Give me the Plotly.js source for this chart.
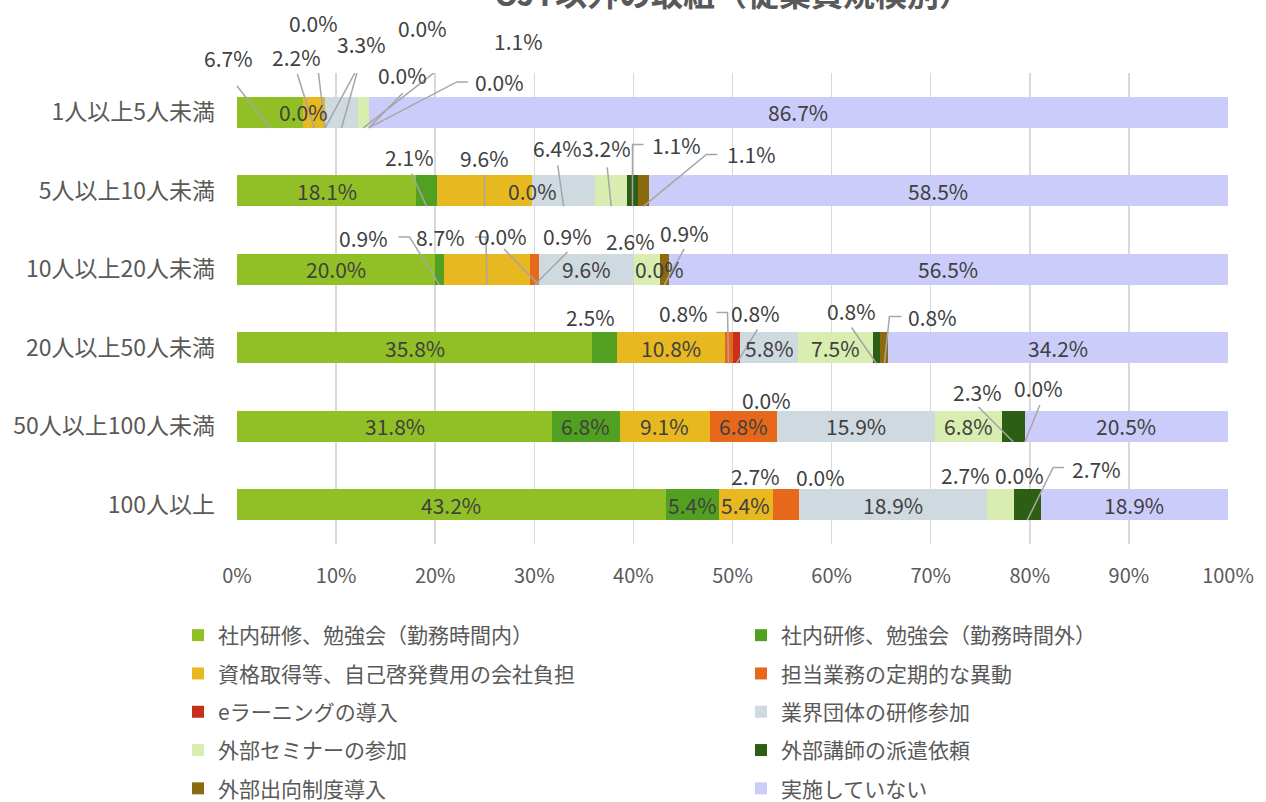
<!DOCTYPE html>
<html><head><meta charset="utf-8">
<script src="https://cdn.plot.ly/plotly-3.0.1.min.js"></script>
<style>html,body{margin:0;padding:0;background:#fff}</style>
</head><body><div id="chart" style="width:1266px;height:802px"></div>
<script>
// ---- data ----
const categories = ['1人以上5人未満','5人以上10人未満','10人以上20人未満','20人以上50人未満','50人以上100人未満','100人以上'];
const seriesNames = ['社内研修、勉強会（勤務時間内）','社内研修、勉強会（勤務時間外）','資格取得等、自己啓発費用の会社負担','担当業務の定期的な異動','eラーニングの導入','業界団体の研修参加','外部セミナーの参加','外部講師の派遣依頼','外部出向制度導入','実施していない'];
const inHouseWork   = [6.7, 18.1, 20.0, 35.8, 31.8, 43.2];
const inHouseOff    = [0.0, 2.1, 0.9, 2.5, 6.8, 5.4];
const qualification = [2.2, 9.6, 8.7, 10.8, 9.1, 5.4];
const rotation      = [0.0, 0.0, 0.9, 0.8, 6.8, 2.7];
const eLearning     = [0.0, 0.0, 0.0, 0.8, 0.0, 0.0];
const industryGroup = [3.3, 6.4, 9.6, 5.8, 15.9, 18.9];
const seminar       = [1.1, 3.2, 2.6, 7.5, 6.8, 2.7];
const lecturer      = [0.0, 1.1, 0.0, 0.8, 2.3, 2.7];
const secondment    = [0.0, 1.1, 0.9, 0.8, 0.0, 0.0];
const none          = [86.7, 58.5, 56.5, 34.2, 20.5, 18.9];
const xTickLabels = ['0%','10%','20%','30%','40%','50%','60%','70%','80%','90%','100%'];
const xTickVals = [0,10,20,30,40,50,60,70,80,90,100];

// ---- style ----
const series = [inHouseWork, inHouseOff, qualification, rotation, eLearning, industryGroup, seminar, lecturer, secondment, none];
const colors = ['#91C026','#52A022','#E7B820','#E8681B','#C8301E','#CFD9E0','#D8EDAF','#2E5E14','#8C6B0E','#CCCCFA'];
const FONT = '"Noto Sans CJK JP", "Noto Sans", sans-serif';

// label placement: 'in' = centred on segment, null = hidden,
// {t:[dx,dy]} text offset (px) from segment bottom-centre, optional l: leader polyline
const labelPlacement = [
  [{t:[-42,-70],l:[[-42,-53]]}, 'in', {t:[-18,-71],l:[[-17,-54]]}, {t:[-12,-105],l:[[-11,-89]]}, {t:[97,-100],l:[[55,-102],[65,-102]]}, {t:[20,-84],l:[[21,-75]]}, {t:[155,-87],l:[[114,-89],[124,-89]]}, {t:[34,-53],l:[[34,-35]]}, {t:[131,-46],l:[[88,-46],[99,-46]]}, 'in'],
  ['in', {t:[-17,-49],l:[[-15,-33]]}, {t:[0,-48],l:[[0,-31]]}, 'in', null, {t:[-6,-58],l:[[-6,-41]]}, {t:[-5,-58],l:[[-4,-39]]}, {t:[44,-61],l:[[0,-62],[11,-62]]}, {t:[108,-52],l:[[63,-52],[74,-52]]}, 'in'],
  ['in', {t:[-76,-47],l:[[-30,-48],[-41,-48]]}, {t:[-46,-48],l:[[-1,-48],[-12,-48]]}, {t:[33,-49],l:[[33,-33]]}, {t:[-36,-49],l:[[-35,-36]]}, 'in', {t:[-16,-44]}, 'in', {t:[20,-52],l:[[20,-36]]}, 'in'],
  ['in', {t:[-14,-46]}, 'in', {t:[-45,-50],l:[[-1,-51],[-12,-51]]}, {t:[19,-50],l:[[21,-34]]}, 'in', 'in', {t:[-25,-52],l:[[-25,-36]]}, {t:[48,-46],l:[[5,-47],[17,-47]]}, 'in'],
  ['in', 'in', 'in', 'in', {t:[-11,-42]}, 'in', 'in', {t:[-36,-50],l:[[-35,-35]]}, {t:[14,-54],l:[[15,-37]]}, 'in'],
  ['in', 'in', 'in', {t:[-31,-44]}, {t:[21,-43]}, 'in', {t:[-35,-45]}, {t:[69,-51],l:[[26,-53],[37,-53]]}, {t:[-21,-45]}, 'in']
];

const traces = series.map((vals, k) => ({
  type: 'bar', orientation: 'h', name: seriesNames[k],
  x: vals, y: categories,
  marker: {color: colors[k], line: {width: 0}},
  hoverinfo: 'skip',
  legend: (k % 2 === 0) ? 'legend' : 'legend2',
  legendgroup: 'g' + k
}));

const annotations = [];
const shapes = [];
categories.forEach((cat, i) => {
  const total = series.reduce((s, a) => s + a[i], 0);
  let cum = 0;
  series.forEach((a, k) => {
    const v = a[i];
    const c = (cum + v / 2) / total * 100;
    cum += v;
    const p = labelPlacement[i][k];
    if (p === null) return;
    const txt = v.toFixed(1) + '%';
    if (p === 'in') {
      annotations.push({x: c, y: i, xref: 'x', yref: 'y', text: txt, showarrow: false,
        xanchor: 'center', yanchor: 'middle', font: {family: FONT, size: 21, color: '#404040'}});
    } else {
      annotations.push({x: c, y: i + 0.2, xref: 'x', yref: 'y', text: txt, showarrow: false,
        xanchor: 'center', yanchor: 'middle', xshift: p.t[0], yshift: -p.t[1],
        font: {family: FONT, size: 21, color: '#404040'}});
      if (p.l) {
        const path = 'M0,0' + p.l.map(pt => ' L' + pt[0] + ',' + (-pt[1])).join('');
        shapes.push({type: 'path', xref: 'x', yref: 'y', xsizemode: 'pixel', ysizemode: 'pixel',
          xanchor: c, yanchor: i + 0.2, path: path, line: {color: '#A6A6A6', width: 1.5}, layer: 'above'});
      }
    }
  });
});

const legendBase = {orientation: 'v', xref: 'container', yref: 'container', yanchor: 'top', xanchor: 'left',
  font: {family: FONT, size: 21, color: '#595959'}, bgcolor: 'rgba(0,0,0,0)', tracegroupgap: 8, itemclick: false, itemdoubleclick: false};

const layout = {
  width: 1266, height: 802,
  margin: {l: 236.5, r: 37.5, t: 73, b: 258, autoexpand: false},
  paper_bgcolor: '#fff', plot_bgcolor: '#fff',
  barmode: 'stack', barnorm: 'percent', bargap: 0.6,
  title: {text: 'OJT以外の取組（従業員規模別）', xref: 'paper', x: 0.5, yref: 'paper', y: 1, yanchor: 'bottom',
    pad: {b: 67}, font: {family: FONT, size: 32, color: '#595959', weight: 'bold'}},
  xaxis: {range: [0, 100], tickvals: xTickVals, ticktext: xTickLabels, showgrid: true, gridcolor: '#D9D9D9', gridwidth: 1.5,
    zeroline: false, showline: false, ticks: '', ticklabelstandoff: 18, fixedrange: true, automargin: false, tickangle: 0,
    tickfont: {family: FONT, size: 20, color: '#595959'}},
  yaxis: {type: 'category', autorange: false, range: [5.5, -0.5], showgrid: false, zeroline: false, showline: false, ticks: '',
    ticklabelstandoff: 21, fixedrange: true, automargin: false, tickfont: {family: FONT, size: 23, color: '#595959'}},
  showlegend: true,
  legend: Object.assign({}, legendBase, {x: 178 / 1266, y: 1 - 615 / 802}),
  legend2: Object.assign({}, legendBase, {x: 741 / 1266, y: 1 - 615 / 802}),
  annotations: annotations,
  shapes: shapes
};

Plotly.newPlot('chart', traces, layout, {staticPlot: true, displayModeBar: false});
</script>
</body></html>
